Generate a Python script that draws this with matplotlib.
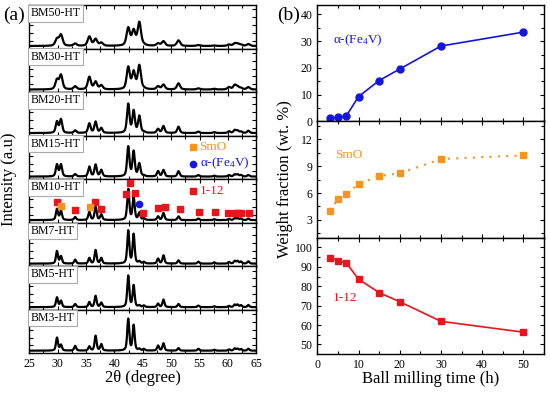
import numpy as np
import matplotlib
matplotlib.use('Agg')
import matplotlib.pyplot as plt
from matplotlib.ticker import MultipleLocator
import matplotlib.transforms as mtransforms

plt.rcParams['font.family'] = ['Liberation Serif', 'DejaVu Serif']
plt.rcParams['mathtext.fontset'] = 'custom'
plt.rcParams['mathtext.rm'] = 'Liberation Serif'
plt.rcParams['mathtext.it'] = 'Liberation Serif:italic'
plt.rcParams['xtick.direction'] = 'in'
plt.rcParams['ytick.direction'] = 'in'

# ---- XRD peak table (2theta, relative heights) ----
samples = ['BM50-HT', 'BM30-HT', 'BM20-HT', 'BM15-HT', 'BM10-HT', 'BM7-HT', 'BM5-HT', 'BM3-HT']
peak_pos = [29.9, 30.6, 33.1, 35.6, 36.7, 37.7, 42.45, 43.4, 44.4, 45.2,
            47.7, 48.65, 51.3, 54.8, 57.6, 60.2, 61.2, 61.7, 62.3, 63.6]
rel_int = {
    'BM50-HT': [0.29, 0.47, 0.10, 0.40, 0.29, 0.13, 0.76, 0.64, 1.00, 0.03, 0.10, 0.20, 0.24, 0.04, 0.02, 0.06, 0.10, 0.08, 0.05, 0.08],
    'BM30-HT': [0.40, 0.60, 0.13, 0.53, 0.32, 0.17, 0.93, 0.72, 1.00, 0.03, 0.13, 0.20, 0.26, 0.05, 0.03, 0.10, 0.18, 0.10, 0.06, 0.10],
    'BM20-HT': [0.39, 0.47, 0.09, 0.33, 0.39, 0.17, 1.00, 0.76, 0.58, 0.03, 0.14, 0.24, 0.22, 0.05, 0.03, 0.06, 0.10, 0.08, 0.05, 0.08],
    'BM15-HT': [0.40, 0.40, 0.08, 0.33, 0.40, 0.22, 1.00, 0.84, 0.43, 0.03, 0.18, 0.22, 0.18, 0.05, 0.03, 0.05, 0.07, 0.07, 0.05, 0.05],
    'BM10-HT': [0.36, 0.30, 0.10, 0.26, 0.43, 0.18, 1.00, 0.74, 0.23, 0.05, 0.12, 0.23, 0.12, 0.05, 0.03, 0.04, 0.06, 0.06, 0.05, 0.05],
    'BM7-HT':  [0.38, 0.22, 0.12, 0.17, 0.41, 0.17, 1.00, 0.89, 0.06, 0.05, 0.15, 0.25, 0.10, 0.06, 0.04, 0.05, 0.08, 0.08, 0.06, 0.07],
    'BM5-HT':  [0.31, 0.20, 0.10, 0.16, 0.36, 0.14, 1.00, 0.69, 0.05, 0.05, 0.11, 0.24, 0.10, 0.05, 0.03, 0.04, 0.08, 0.08, 0.06, 0.07],
    'BM3-HT':  [0.41, 0.18, 0.15, 0.13, 0.47, 0.20, 1.00, 0.80, 0.05, 0.05, 0.16, 0.23, 0.08, 0.06, 0.03, 0.04, 0.07, 0.06, 0.05, 0.06],
}
max_height = [0.56, 0.57, 0.68, 0.70, 0.72, 0.77, 0.73, 0.74]   # tallest peak, fraction of panel
peak_fwhm = [0.70, 0.65, 0.52, 0.48, 0.44, 0.42, 0.42, 0.42]

# phase markers over the BM10-HT pattern (2theta, height as panel fraction)
m112_x = [29.87, 33.1, 36.63, 37.69, 42.09, 42.74, 43.68, 45.09, 47.67, 48.85,
          51.5, 54.84, 57.66, 59.95, 61.18, 61.77, 62.36, 63.65]
m112_y = [0.47, 0.30, 0.48, 0.32, 0.66, 0.91, 0.68, 0.22, 0.33, 0.36,
          0.32, 0.24, 0.24, 0.22, 0.23, 0.23, 0.23, 0.23]
smo_x = [30.64, 35.63]
smo_y = [0.38, 0.36]
fe4v_x = [44.38]
fe4v_y = [0.42]

# ---- phase fractions vs milling time ----
mill_time = [3, 5, 7, 10, 15, 20, 30, 50]
frac_fe4v = [1.3, 1.5, 2.0, 9.3, 15.3, 19.6, 28.2, 33.4]
frac_smo = [4.0, 5.3, 5.9, 7.0, 7.9, 8.2, 9.8, 10.2]
frac_112 = [94.8, 93.2, 92.1, 83.6, 76.7, 72.0, 61.9, 56.3]

BLUE = '#1515e0'
ORANGE = '#f7931e'
RED = '#e8161c'

fig = plt.figure(figsize=(5.5, 3.93), dpi=100)

gl = fig.add_gridspec(8, 1, left=0.053, right=0.466, bottom=0.101, top=0.987, hspace=0)
gr = fig.add_gridspec(3, 1, left=0.577, right=0.989, bottom=0.099, top=0.987, hspace=0)

tt = np.linspace(25, 65, 3000)


def profile(pos, heights, w):
    y = np.zeros_like(tt)
    for p, h in zip(pos, heights):
        d = (tt - p) / (w / 2)
        y += h * (0.5 / (1 + d ** 2) + 0.5 * np.exp(-np.log(2) * d ** 2))
    return y


for i, name in enumerate(samples):
    ax = fig.add_subplot(gl[i, 0])
    y = profile(peak_pos, rel_int[name], peak_fwhm[i])
    y = y / y.max() * max_height[i] + 0.06
    ax.plot(tt, y, color='black', lw=1.6)
    ax.set_xlim(25, 65)
    ax.set_ylim(0, 1)
    ax.xaxis.set_major_locator(MultipleLocator(5))
    ax.xaxis.set_minor_locator(MultipleLocator(2.5))
    ax.yaxis.set_major_locator(MultipleLocator(0.18))
    ax.set_yticklabels([])
    ax.tick_params(which='both', top=True, right=True, length=3, width=0.8, labelsize=8.5)
    ax.tick_params(which='minor', length=2)
    for s in ax.spines.values():
        s.set_linewidth(1.0)
    if i < len(samples) - 1:
        ax.set_xticklabels([])
    else:
        ax.set_xlabel('2θ (degree)', fontsize=12, labelpad=0)
    ax.text(0.005, 0.95, name, transform=ax.transAxes, fontsize=8.5, va='top', ha='left',
            bbox=dict(boxstyle='square,pad=0.2', fc='white', ec='#aaaaaa', lw=0.8), zorder=5)

    trans = mtransforms.blended_transform_factory(ax.transData, ax.transAxes)
    if name == 'BM15-HT':
        ax.plot([53.8], [0.74], 's', color=ORANGE, ms=4.5, transform=trans)
        ax.text(55.0, 0.74, 'SmO', color=ORANGE, fontsize=9.5, va='center', transform=trans)
        ax.plot([53.8], [0.36], 'o', color=BLUE, ms=4.5, transform=trans)
        ax.text(55.0, 0.36, 'α-(Fe$_4$V)', color=BLUE, fontsize=9.5, va='center', transform=trans)
    if name == 'BM10-HT':
        ax.plot(m112_x, m112_y, 's', color=RED, ms=4.5, ls='none', transform=trans, zorder=4)
        ax.plot(smo_x, smo_y, 's', color=ORANGE, ms=4.5, ls='none', transform=trans, zorder=4)
        ax.plot(fe4v_x, fe4v_y, 'o', color=BLUE, ms=4.5, ls='none', transform=trans, zorder=4)
        ax.plot([53.8], [0.73], 's', color=RED, ms=4.5, transform=trans)
        ax.text(55.0, 0.73, '1-12', color=RED, fontsize=9.5, va='center', transform=trans)

fig.text(0.016, 0.545, 'Intensity (a.u)', rotation=90, fontsize=12, ha='center', va='center')
fig.text(0.005, 0.962, '(a)', fontsize=14, ha='left', va='center')
fig.text(0.503, 0.962, '(b)', fontsize=14, ha='left', va='center')

# right column
ax1 = fig.add_subplot(gr[0, 0])
ax2 = fig.add_subplot(gr[1, 0], sharex=ax1)
ax3 = fig.add_subplot(gr[2, 0], sharex=ax1)

ax1.plot(mill_time, frac_fe4v, '-o', color=BLUE, ms=5, lw=1.2)
ax1.set_ylim(0, 43.5)
ax1.yaxis.set_major_locator(MultipleLocator(10))
ax1.yaxis.set_minor_locator(MultipleLocator(5))
ax1.text(3.9, 30.2, 'α-(Fe$_4$V)', color=BLUE, fontsize=9.5, va='center')

ax2.plot(mill_time, frac_smo, 's', color=ORANGE, ms=5, ls=(0, (1, 3)), lw=1.5)
ax2.set_ylim(1, 14)
ax2.yaxis.set_major_locator(MultipleLocator(3))
ax2.yaxis.set_minor_locator(MultipleLocator(1.5))
ax2.text(4.3, 10.2, 'SmO', color=ORANGE, fontsize=9.5, va='center')

ax3.plot(mill_time, frac_112, '-s', color=RED, ms=5, lw=1.2)
ax3.set_ylim(45, 105)
ax3.yaxis.set_major_locator(MultipleLocator(10))
ax3.yaxis.set_minor_locator(MultipleLocator(5))
ax3.text(3.7, 74.1, '1-12', color=RED, fontsize=9.5, va='center')

for ax in (ax1, ax2, ax3):
    ax.set_xlim(0, 55)
    ax.xaxis.set_major_locator(MultipleLocator(10))
    ax.xaxis.set_minor_locator(MultipleLocator(5))
    ax.tick_params(which='both', top=True, right=True, length=3, width=0.8, labelsize=8.5)
    ax.tick_params(which='minor', length=2)
    for s in ax.spines.values():
        s.set_linewidth(1.0)
ax1.tick_params(labelbottom=False)
ax2.tick_params(labelbottom=False)
ax3.set_xlabel('Ball milling time (h)', fontsize=12, labelpad=0)
fig.text(0.519, 0.545, 'Weight fraction (wt. %)', rotation=90, fontsize=12, ha='center', va='center')

fig.savefig('out.png', dpi=100)
